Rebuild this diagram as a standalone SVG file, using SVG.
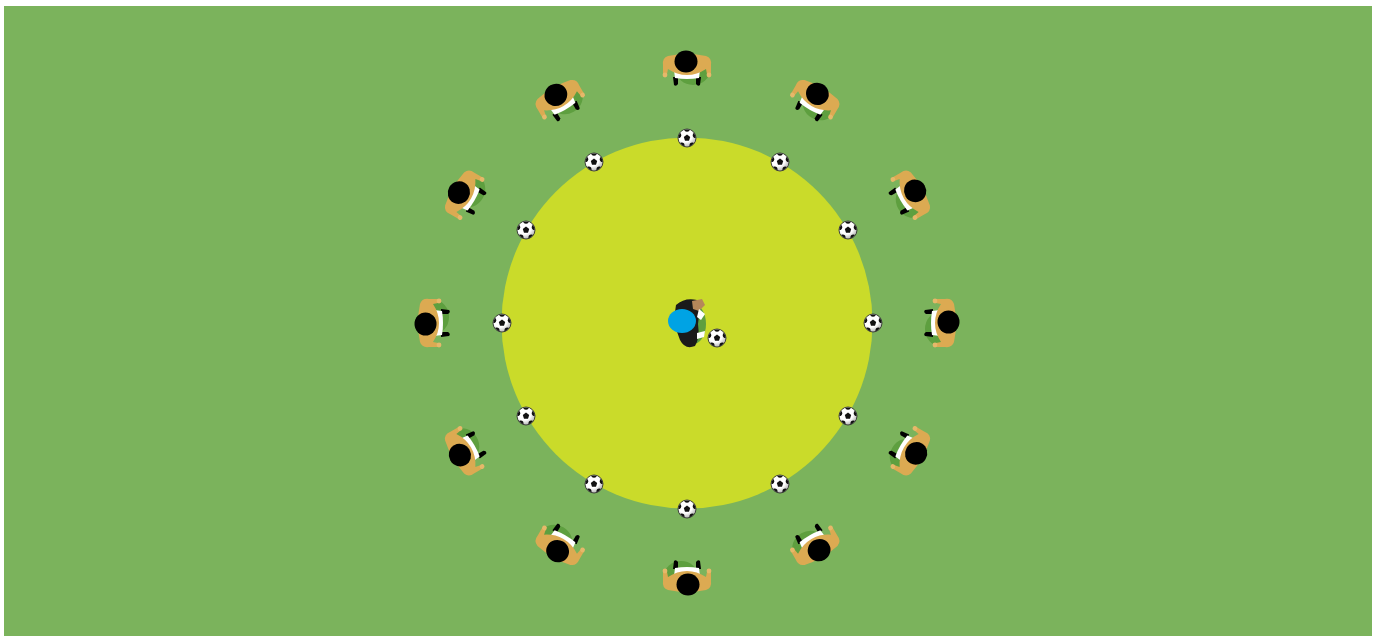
<svg xmlns="http://www.w3.org/2000/svg" xmlns:xlink="http://www.w3.org/1999/xlink" width="1377" height="636" viewBox="0 0 1377 636">
  <style>
    .pitch { fill: #7bb35c; }
    .zone { fill: #cadb2a; }
    .shadow { fill: #5e9f3f; }
    .shirt { fill: #dcaa52; }
    .skin { fill: #e6b86a; }
    .hair { fill: #000; }
    .shorts { fill: #fff; }
    .boot { fill: #000; }
  </style>
  <defs>
    <clipPath id="ballClip"><circle r="8.6"/></clipPath>
    <radialGradient id="ballShade" cx="0.4" cy="0.35" r="0.7">
      <stop offset="0.55" stop-color="#ffffff"/>
      <stop offset="1" stop-color="#a8a8a8"/>
    </radialGradient>
    <!-- soccer ball, radius 9 -->
    <g id="ball">
      <circle r="9" fill="url(#ballShade)" stroke="#333" stroke-width="0.9"/>
      <g clip-path="url(#ballClip)" fill="#111">
        <polygon points="0,-3.4 3.2,-1.05 2,2.75 -2,2.75 -3.2,-1.05"/>
        <circle cx="0" cy="-9" r="2.8"/>
        <circle cx="8.6" cy="-2.8" r="2.8"/>
        <circle cx="5.3" cy="7.3" r="2.8"/>
        <circle cx="-5.3" cy="7.3" r="2.8"/>
        <circle cx="-8.6" cy="-2.8" r="2.8"/>
      </g>
    </g>
    <!-- player seen from above, facing +y -->
    <g id="player">
      <ellipse class="shadow" cx="6" cy="2" rx="17" ry="15"/>
      <path class="boot" d="M -14 9 L -9 9 L -9 16 Q -11 19 -13 17 Z"/>
      <path class="boot" d="M 9 9 L 14 9 L 13 17 Q 11 19 9 16 Z"/>
      <path class="shorts" d="M -13 2 L 13 2 L 12 10 Q 0 12 -12 10 Z"/>
      <path class="shirt" d="M -19 -12 Q 0 -16 19 -12 Q 25 -10 24 -3 L 24 6 Q 22 9 20 6 L 19 1 Q 10 7 0 7 Q -10 7 -19 1 L -20 6 Q -22 9 -24 6 L -24 -3 Q -25 -10 -19 -12 Z"/>
      <circle class="skin" cx="-22" cy="7" r="2.4"/>
      <circle class="skin" cx="22" cy="7" r="2.4"/>
      <ellipse class="hair" cx="-1" cy="-6.5" rx="11.5" ry="11"/>
    </g>
  </defs>

  <!-- pitch and central zone -->
  <rect class="pitch" x="4" y="6" width="1368" height="630"/>
  <circle class="zone" cx="687" cy="323" r="185.5"/>

  <!-- balls around the zone edge -->
  <g id="balls">
    <use xlink:href="#ball" x="687" y="138"/>
    <use xlink:href="#ball" x="780" y="162"/>
    <use xlink:href="#ball" x="848" y="230"/>
    <use xlink:href="#ball" x="873" y="323"/>
    <use xlink:href="#ball" x="848" y="416"/>
    <use xlink:href="#ball" x="780" y="484"/>
    <use xlink:href="#ball" x="687" y="509"/>
    <use xlink:href="#ball" x="594" y="484"/>
    <use xlink:href="#ball" x="526" y="416"/>
    <use xlink:href="#ball" x="502" y="323"/>
    <use xlink:href="#ball" x="526" y="230"/>
    <use xlink:href="#ball" x="594" y="162"/>
  </g>

  <!-- outer ring of players facing the centre -->
  <g id="players">
    <use id="p1" xlink:href="#player" transform="translate(687 68) rotate(0)"/>
    <use id="p2" xlink:href="#player" transform="translate(815 100) rotate(30)"/>
    <use id="p3" xlink:href="#player" transform="translate(910 195) rotate(60)"/>
    <use id="p4" xlink:href="#player" transform="translate(942 323) rotate(90)"/>
    <use id="p5" xlink:href="#player" transform="translate(910 451) rotate(120)"/>
    <use id="p6" xlink:href="#player" transform="translate(815 545) rotate(150)"/>
    <use id="p7" xlink:href="#player" transform="translate(687 578) rotate(180)"/>
    <use id="p8" xlink:href="#player" transform="translate(560 545) rotate(210)"/>
    <use id="p9" xlink:href="#player" transform="translate(465 451) rotate(240)"/>
    <use id="p10" xlink:href="#player" transform="translate(432 323) rotate(270)"/>
    <use id="p11" xlink:href="#player" transform="translate(465 195) rotate(300)"/>
    <use id="p12" xlink:href="#player" transform="translate(560 100) rotate(330)"/>
  </g>

  <!-- centre player with ball -->
  <g id="centre-player">
    <ellipse class="shadow" cx="693" cy="324" rx="13" ry="20"/>
    <path fill="#1a1a1a" d="M 676 305 Q 685 297 697 300 Q 700 312 698 324 Q 700 338 695 346 Q 685 350 680 340 Q 672 322 676 305 Z"/>
    <path fill="#b5875a" d="M 692 301 L 702 299 L 705 305 L 699 311 L 693 309 Z"/>
    <path class="shorts" d="M 699 309 L 705 314 L 701 320 L 697 317 Z"/>
    <path class="shorts" d="M 697 333 L 705 331 L 704 337 L 697 339 Z"/>
    <ellipse cx="682" cy="321" rx="14" ry="12" fill="#00a3e4"/>
    <use xlink:href="#ball" x="717" y="338"/>
  </g>
</svg>
